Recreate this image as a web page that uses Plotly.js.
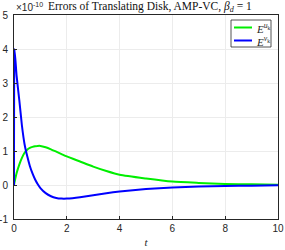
<!DOCTYPE html>
<html>
<head>
<meta charset="utf-8">
<script src="https://cdn.plot.ly/plotly-3.0.1.min.js"></script>
<style>html,body{margin:0;padding:0;background:#fff;}#chart{width:285px;height:250px;}</style>
</head>
<body>
<div id="chart"></div>
<script>
// time samples
const t = [0, 0.02, 0.1, 0.2, 0.3, 0.4, 0.5, 0.6, 0.7, 0.8, 0.9, 1.0, 1.2, 1.4, 1.6, 1.8, 2.0, 2.5, 3, 3.5, 4, 5, 6, 7, 8, 9, 10];
// series values (units of 1e-10)
const errU = [0, 0.08, 0.35, 0.6, 0.8, 0.95, 1.04, 1.09, 1.12, 1.14, 1.15, 1.15, 1.11, 1.05, 0.98, 0.91, 0.84, 0.69, 0.54, 0.41, 0.30, 0.19, 0.10, 0.06, 0.03, 0.02, 0.01];
const errV = [0, 4.0, 3.2, 2.5, 1.75, 1.2, 0.85, 0.56, 0.34, 0.16, 0.02, -0.09, -0.24, -0.33, -0.38, -0.40, -0.40, -0.36, -0.30, -0.24, -0.19, -0.12, -0.07, -0.045, -0.03, -0.02, -0.01];
const seriesNames = ['<i>E</i><sup><i>u</i><sub>k</sub></sup>', '<i>E</i><sup><i>v</i><sub>k</sub></sup>'];
const seriesColors = ['#00ee00', '#0000ff'];
const xTicks = [0, 2, 4, 6, 8, 10];
const yTicks = [-1, 0, 1, 2, 3, 4, 5];

const traces = [
  {x: t, y: errU, name: seriesNames[0], mode: 'lines', line: {color: seriesColors[0], width: 2, shape: 'spline', smoothing: 0.6}},
  {x: t, y: errV, name: seriesNames[1], mode: 'lines', line: {color: seriesColors[1], width: 2, shape: 'spline', smoothing: 0.4}}
];

const axisCommon = {
  showline: true, mirror: true, linecolor: '#262626', linewidth: 1,
  showgrid: true, gridcolor: '#ececec', gridwidth: 1,
  zeroline: false, ticks: 'inside', ticklen: 3, tickcolor: '#262626',
  tickfont: {family: 'Liberation Sans, Arial, sans-serif', size: 10, color: '#262626'}
};

// custom legend geometry (paper coords)
const W = 285, H = 250, mL = 14, mR = 7, mT = 15, mB = 31;
const pw = W - mL - mR, ph = H - mT - mB;
const px = v => (v - mL) / pw;
const py = v => 1 - (v - mT) / ph;

const shapes = [
  {type: 'rect', xref: 'paper', yref: 'paper', x0: px(231), x1: px(271), y0: py(20), y1: py(47), line: {color: '#262626', width: 0.8}, fillcolor: '#ffffff', layer: 'above'},
  {type: 'line', xref: 'paper', yref: 'paper', x0: px(234), x1: px(252), y0: py(27.5), y1: py(27.5), line: {color: seriesColors[0], width: 2}, layer: 'above'},
  {type: 'line', xref: 'paper', yref: 'paper', x0: px(234), x1: px(252), y0: py(40.5), y1: py(40.5), line: {color: seriesColors[1], width: 2}, layer: 'above'}
];

const annotations = [
  {xref: 'paper', yref: 'paper', x: px(254), y: py(27.5), xanchor: 'left', yanchor: 'middle', showarrow: false, text: seriesNames[0], font: {family: 'Liberation Serif, Times New Roman, serif', size: 11, color: '#262626'}},
  {xref: 'paper', yref: 'paper', x: px(254), y: py(40.5), xanchor: 'left', yanchor: 'middle', showarrow: false, text: seriesNames[1], font: {family: 'Liberation Serif, Times New Roman, serif', size: 11, color: '#262626'}},
  {xref: 'paper', yref: 'paper', x: px(14), y: py(7), xanchor: 'left', yanchor: 'middle', showarrow: false, text: '\u00d710<sup>-10</sup>', font: {family: 'Liberation Sans, Arial, sans-serif', size: 10, color: '#262626'}},
  {xref: 'paper', yref: 'paper', x: px(46), y: py(7), xanchor: 'left', yanchor: 'middle', showarrow: false, text: 'Errors of Translating Disk, AMP-VC, <i>\u03b2</i><sub><i>d</i></sub> = 1', font: {family: 'Liberation Serif, Times New Roman, serif', size: 11.5, color: '#111111'}}
];

const layout = {
  width: W, height: H,
  margin: {l: mL, r: mR, t: mT, b: mB, pad: 0},
  paper_bgcolor: '#ffffff', plot_bgcolor: '#ffffff',
  showlegend: false,
  xaxis: Object.assign({}, axisCommon, {range: [0, 10], tickvals: xTicks, ticktext: xTicks.map(String),
    title: {text: '<i>t</i>', font: {family: 'Liberation Serif, Times New Roman, serif', size: 11, color: '#262626'}, standoff: 5}}),
  yaxis: Object.assign({}, axisCommon, {range: [-1, 5], tickvals: yTicks, ticktext: yTicks.map(String), ticklabelstandoff: 3}),
  shapes: shapes,
  annotations: annotations
};

Plotly.newPlot('chart', traces, layout, {displayModeBar: false, staticPlot: true});
</script>
</body>
</html>
